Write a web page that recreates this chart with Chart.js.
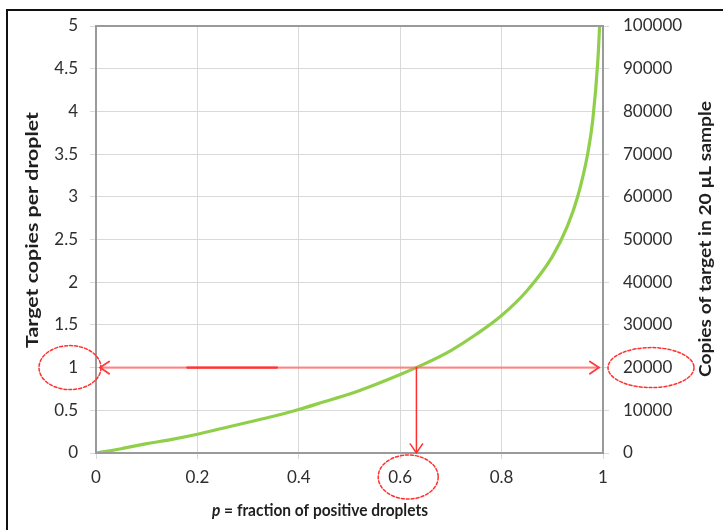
<!DOCTYPE html>
<html>
<head>
<meta charset="utf-8">
<script src="https://cdn.jsdelivr.net/npm/chart.js@4.4.1/dist/chart.umd.min.js"></script>
<style>
  html, body { margin: 0; padding: 0; background: #fff; }
  #wrap { position: relative; width: 723px; height: 530px; }
  canvas { display: block; }
</style>
</head>
<body>
<div id="wrap"><canvas id="c" width="723" height="530"></canvas></div>
<script>
// ---- data ----
const pValues      = [0, 0.05, 0.10, 0.15, 0.20, 0.25, 0.30, 0.35, 0.40, 0.45, 0.50, 0.55, 0.60, 0.65, 0.70, 0.75, 0.80, 0.85, 0.90, 0.93, 0.95, 0.97, 0.98, 0.99, 0.9933];
const copiesPerDrop = [0, 0.05, 0.11, 0.16, 0.22, 0.29, 0.36, 0.43, 0.51, 0.60, 0.69, 0.80, 0.92, 1.05, 1.20, 1.39, 1.61, 1.90, 2.30, 2.66, 3.00, 3.51, 3.91, 4.61, 5.00];
const leftTicks  = [0, 0.5, 1, 1.5, 2, 2.5, 3, 3.5, 4, 4.5, 5];
const rightTicks = [0, 10000, 20000, 30000, 40000, 50000, 60000, 70000, 80000, 90000, 100000];
const xTicks     = [0, 0.2, 0.4, 0.6, 0.8, 1];
// annotation: reading at copies = 1
const readY = 1;
const readP = 0.632;
const arrowLeftP = 0.008;
const arrowRightP = 0.992;
const darkSegP = [0.18, 0.357];
const circledLeftTick = 1;
const circledRightTick = 20000;
const circledXTick = 0.6;

const TEXT = '#2e2e2e';
const GRID = '#d9d9d9';
const FRAME = '#9a9a9a';
const TICKFONT = { family: 'Lato', size: 17 };

function arrowHead(ctx, x, y, ang, len) {
  ctx.beginPath();
  ctx.moveTo(x + len * Math.cos(ang + 0.6), y + len * Math.sin(ang + 0.6));
  ctx.lineTo(x, y);
  ctx.lineTo(x + len * Math.cos(ang - 0.6), y + len * Math.sin(ang - 0.6));
  ctx.stroke();
}

function stretchedVertical(ctx, text, cx, cy, target) {
  ctx.save();
  ctx.translate(cx, cy); ctx.rotate(-Math.PI / 2);
  const w = ctx.measureText(text).width;
  ctx.scale(target / w, 1);
  ctx.fillText(text, 0, 0);
  ctx.restore();
}

const annot = {
  id: 'annot',
  afterDatasetsDraw(chart) {
    const ctx = chart.ctx;
    const xs = chart.scales.x, ys = chart.scales.y;
    const y1 = ys.getPixelForValue(readY);
    const xp = xs.getPixelForValue(readP);
    const xl = xs.getPixelForValue(arrowLeftP);
    const xr = xs.getPixelForValue(arrowRightP);
    const y0 = ys.getPixelForValue(0);
    ctx.save();
    ctx.lineCap = 'round';
    // light horizontal line
    ctx.strokeStyle = 'rgba(255,100,100,0.7)';
    ctx.lineWidth = 2.2;
    ctx.beginPath(); ctx.moveTo(xl, y1); ctx.lineTo(xr, y1); ctx.stroke();
    // darker segment
    ctx.strokeStyle = '#ff3333';
    ctx.lineWidth = 2.2;
    ctx.beginPath(); ctx.moveTo(xs.getPixelForValue(darkSegP[0]), y1); ctx.lineTo(xs.getPixelForValue(darkSegP[1]), y1); ctx.stroke();
    // arrow heads
    ctx.strokeStyle = '#ff3b3b';
    ctx.lineWidth = 1.8;
    arrowHead(ctx, xl, y1, 0, 11);
    arrowHead(ctx, xr, y1, Math.PI, 11);
    // vertical arrow
    ctx.strokeStyle = '#ff3030';
    ctx.lineWidth = 1.5;
    ctx.beginPath(); ctx.moveTo(xp, y1); ctx.lineTo(xp, y0); ctx.stroke();
    arrowHead(ctx, xp, y0, -Math.PI / 2, 11);

    // dashed ellipses around circled tick labels
    ctx.setLineDash([3, 2]);
    ctx.strokeStyle = '#ff3030';
    ctx.lineWidth = 1.5;
    const yl = ys.getPixelForValue(circledLeftTick);
    ctx.beginPath(); ctx.ellipse(70, yl, 31, 22, 0, 0, Math.PI * 2); ctx.stroke();
    const yr = chart.scales.y2.getPixelForValue(circledRightTick);
    ctx.beginPath(); ctx.ellipse(651, yr, 43, 20, 0, 0, Math.PI * 2); ctx.stroke();
    const xc = xs.getPixelForValue(circledXTick);
    ctx.beginPath(); ctx.ellipse(xc + 8, 477, 30, 22, 0, 0, Math.PI * 2); ctx.stroke();
    ctx.setLineDash([]);

    // axis titles
    ctx.fillStyle = '#1e1e1e';
    ctx.textAlign = 'center';
    ctx.textBaseline = 'middle';
    ctx.font = 'bold 17px Lato';
    stretchedVertical(ctx, 'Target copies per droplet', 33, 230, 236);
    stretchedVertical(ctx, 'Copies of target in 20 \u00b5L sample', 706, 239, 276);
    // x title with italic p, fitted to its width in the picture
    const t1 = 'p', t2 = ' = fraction of positive droplets';
    ctx.font = 'italic bold 17px Lato';
    const w1 = ctx.measureText(t1).width;
    ctx.font = 'bold 17px Lato';
    const w2 = ctx.measureText(t2).width;
    const target = 216, k = target / (w1 + w2);
    ctx.save();
    ctx.translate(320 - target / 2, 511);
    ctx.scale(k, 1);
    ctx.textAlign = 'left';
    ctx.font = 'italic bold 17px Lato';
    ctx.fillText(t1, 0, 0);
    ctx.font = 'bold 17px Lato';
    ctx.fillText(t2, w1, 0);
    ctx.restore();
    ctx.restore();
  }
};

const border = {
  id: 'border',
  beforeDraw(chart) {
    const ctx = chart.ctx;
    ctx.save();
    ctx.fillStyle = '#fff';
    ctx.fillRect(0, 0, 723, 530);
    ctx.strokeStyle = '#111';
    ctx.lineWidth = 2;
    ctx.beginPath();
    ctx.moveTo(7, 531); ctx.lineTo(7, 10); ctx.lineTo(724, 10);
    ctx.stroke();
    ctx.restore();
  },
  afterDatasetsDraw(chart) {
    const a = chart.chartArea, ctx = chart.ctx;
    ctx.save();
    ctx.strokeStyle = FRAME; ctx.lineWidth = 2;
    ctx.strokeRect(a.left, a.top, a.right - a.left, a.bottom - a.top);
    ctx.restore();
  }
};

new Chart(document.getElementById('c'), {
  type: 'line',
  data: {
    datasets: [{
      data: pValues.map((p, i) => ({ x: p, y: copiesPerDrop[i] })),
      borderColor: '#8fcf4a',
      borderWidth: 3.2,
      pointRadius: 0,
      tension: 0.4,
      cubicInterpolationMode: 'monotone',
      fill: false,
      yAxisID: 'y'
    }]
  },
  options: {
    responsive: false,
    animation: false,
    events: [],
    plugins: { legend: { display: false }, tooltip: { enabled: false } },
    layout: { padding: { top: 26, right: 0, bottom: 0, left: 0 } },
    scales: {
      x: {
        type: 'linear', min: 0, max: 1,
        afterBuildTicks: s => { s.ticks = xTicks.map(v => ({ value: v })); },
        afterFit: s => { s.height = 77; },
        ticks: { color: TEXT, font: TICKFONT, padding: 8, maxRotation: 0, callback: v => String(v) },
        grid: { color: GRID, lineWidth: 1, tickLength: 6, drawTicks: true },
        border: { display: false }
      },
      y: {
        type: 'linear', position: 'left', min: 0, max: 5,
        afterBuildTicks: s => { s.ticks = leftTicks.map(v => ({ value: v })); },
        afterFit: s => { s.width = 96; },
        ticks: { color: TEXT, font: TICKFONT, padding: 12, callback: v => String(v) },
        grid: { color: GRID, lineWidth: 1, tickLength: 6 },
        border: { display: false }
      },
      y2: {
        type: 'linear', position: 'right', min: 0, max: 100000,
        afterBuildTicks: s => { s.ticks = rightTicks.map(v => ({ value: v })); },
        afterFit: s => { s.width = 120; },
        ticks: { color: TEXT, font: TICKFONT, padding: 14, callback: v => String(v) },
        grid: { drawOnChartArea: false, color: GRID, tickLength: 6 },
        border: { display: false }
      }
    }
  },
  plugins: [border, annot]
});
</script>
</body>
</html>
